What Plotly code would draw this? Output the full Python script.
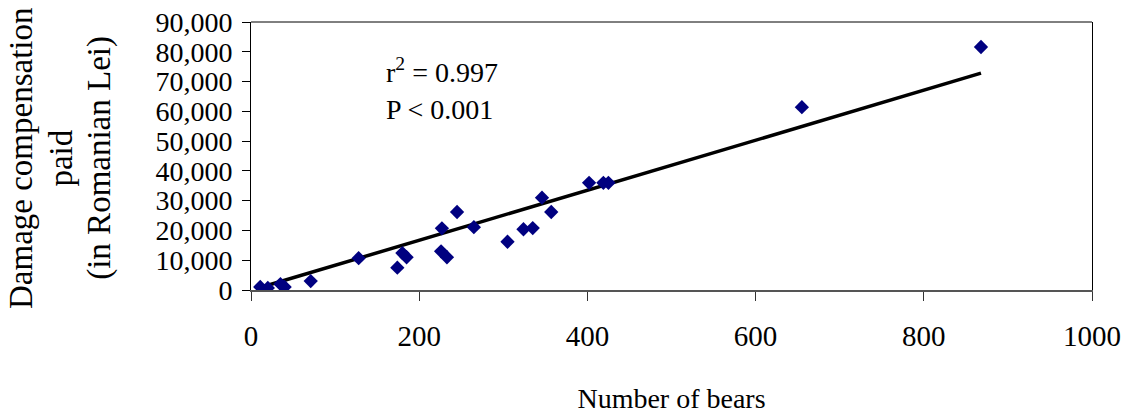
import plotly.graph_objects as go

# Number of bears per hunting area and damage compensation paid (Romanian Lei)
bears = [11, 20, 35, 40, 71, 128, 174, 180, 185, 226, 227, 233, 245, 265,
         305, 324, 335, 346, 357, 402, 419, 425, 655, 868]
compensation = [1000, 700, 2000, 1000, 3000, 10700, 7500, 12400, 11000, 13000,
                20700, 11000, 26200, 21100, 16200, 20400, 20800, 31000, 26200,
                36000, 36000, 36000, 61400, 81600]

# Trend line (Lei per bear, Lei)
trend_slope = 84.0
trend_intercept = -100.0

y_ticks = [0, 10000, 20000, 30000, 40000, 50000, 60000, 70000, 80000, 90000]
y_tick_text = ["0", "10,000", "20,000", "30,000", "40,000", "50,000",
               "60,000", "70,000", "80,000", "90,000"]
x_ticks = [0, 200, 400, 600, 800, 1000]

y_title_lines = ["Damage compensation", "paid", "(in Romanian Lei)"]
stats_lines = ["r<sup>2</sup> = 0.997", "P < 0.001"]

FONT = "Liberation Serif, Times New Roman, serif"

fit_x = [min(bears), max(bears)]
fit_y = [trend_slope * v + trend_intercept for v in fit_x]

fig = go.Figure()
fig.add_trace(go.Scatter(
    x=fit_x, y=fit_y, mode="lines",
    line=dict(color="black", width=3.5),
    hoverinfo="skip", showlegend=False,
))
fig.add_trace(go.Scatter(
    x=bears, y=compensation, mode="markers",
    marker=dict(symbol="diamond", size=11, color="#000080",
                line=dict(width=0)),
    showlegend=False,
))

fig.update_layout(
    width=1132, height=418,
    margin=dict(l=251, r=40, t=22, b=128),
    paper_bgcolor="white", plot_bgcolor="white",
    font=dict(family=FONT, color="black", size=28),
    showlegend=False,
)

fig.update_xaxes(
    range=[0, 1000], tickvals=x_ticks, ticktext=[str(v) for v in x_ticks],
    showgrid=False, zeroline=False, automargin=False,
    showline=True, linecolor="#555555", linewidth=2,
    ticks="outside", ticklen=9, tickcolor="#333333", tickwidth=1,
    ticklabelstandoff=10,
    tickfont=dict(family=FONT, size=29),
    title=dict(text="Number of bears", font=dict(family=FONT, size=28),
               standoff=38),
)
fig.update_yaxes(
    range=[0, 90000], tickvals=y_ticks, ticktext=y_tick_text,
    showgrid=False, zeroline=False, automargin=False,
    showline=True, linecolor="black", linewidth=1, mirror=True,
    ticks="outside", ticklen=8, tickcolor="black", tickwidth=1,
    ticklabelstandoff=4,
    tickfont=dict(family=FONT, size=28),
)

# Top border of the plot frame
fig.add_shape(type="line", xref="paper", yref="paper",
              x0=0, x1=1, y0=1, y1=1, line=dict(color="black", width=1))

# Vertical axis title, three centred rotated lines
for text, xpos in zip(y_title_lines, [-0.2735, -0.2265, -0.181]):
    fig.add_annotation(
        text=text, xref="paper", yref="paper", x=xpos, y=0.4925,
        xanchor="center", yanchor="middle", textangle=-90,
        showarrow=False, font=dict(family=FONT, size=33),
    )

# Fit statistics
fig.add_annotation(text=stats_lines[0], xref="x", yref="y", x=158, y=73700,
                   xanchor="left", yanchor="middle", showarrow=False,
                   font=dict(family=FONT, size=28))
fig.add_annotation(text=stats_lines[1], xref="x", yref="y", x=158, y=60700,
                   xanchor="left", yanchor="middle", showarrow=False,
                   font=dict(family=FONT, size=28))

fig.write_html("out.html")
